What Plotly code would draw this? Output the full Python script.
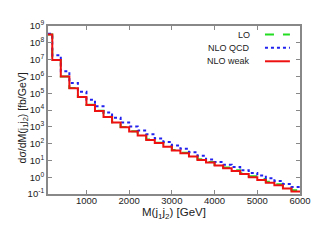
import plotly.graph_objects as go

bin_edges = [100] + list(range(200, 6001, 200))

nlo_weak = [3.1e8, 9.5e6, 1.0e6, 2.0e5, 5.9e4, 2.0e4, 8.7e3, 3.8e3, 1.8e3, 955,
            525, 302, 166, 107, 66, 39, 27, 17, 10.7, 7.4,
            4.9, 3.4, 2.3, 1.55, 1.0, 0.69, 0.47, 0.33, 0.21, 0.14]
nlo_qcd = [3.5e8, 1.8e7, 2.0e6, 4.1e5, 1.23e5, 4.1e4, 1.7e4, 7.1e3, 3.5e3, 1.8e3,
           1.05e3, 600, 363, 200, 126, 76, 49, 31, 18.6, 11.2,
           7.9, 5.5, 4.0, 2.6, 1.8, 1.26, 0.87, 0.60, 0.40, 0.26]
lo = [3.1e8, 9.6e6, 1.0e6, 2.05e5, 6.0e4, 2.05e4, 8.9e3, 3.9e3, 1.85e3, 985,
      545, 315, 175, 113, 70, 42, 29, 18.3, 11.6, 8.1,
      5.4, 3.75, 2.55, 1.73, 1.12, 0.78, 0.54, 0.38, 0.245, 0.165]

series_names = ["LO", "NLO QCD", "NLO weak"]
series_colors = ["#22dd22", "#2222ee", "#ee1111"]
series_dash = ["dash", "dot", "solid"]

y_tick_vals = [10.0 ** k for k in range(-1, 10)]
y_tick_text = ["10<sup>%d</sup>" % k for k in range(-1, 10)]
x_tick_vals = [1000, 2000, 3000, 4000, 5000, 6000]

FONT = "Liberation Sans, Arial"
fig = go.Figure()
for name, vals, col, dash in zip(series_names, [lo, nlo_qcd, nlo_weak], series_colors, series_dash):
    fig.add_trace(go.Scatter(
        x=bin_edges, y=vals + [vals[-1]], mode="lines", line_shape="hv",
        line=dict(color=col, width=2, dash=dash), name=name, showlegend=False))

# manual legend (text on left, sample on right)
leg_y = [0.949, 0.870, 0.790]
for name, col, dash, yy in zip(series_names, series_colors, series_dash, leg_y):
    fig.add_annotation(x=0.808, y=yy, xref="paper", yref="paper", text=name,
                       showarrow=False, xanchor="right", yanchor="middle",
                       font=dict(size=9, color="#222222"))
    fig.add_shape(type="line", xref="paper", yref="paper", x0=0.861, x1=0.960,
                  y0=yy, y1=yy, line=dict(color=col, width=2, dash=dash))

# y-axis title as annotation (close to tick labels, as in the reference)
fig.add_annotation(x=-0.099, y=0.45, xref="paper", yref="paper",
                   text="dσ/dM(j<sub>1</sub>j<sub>2</sub>) [fb/GeV]", textangle=-90,
                   showarrow=False, xanchor="center", yanchor="middle",
                   font=dict(size=10.5, color="#222222", family=FONT))

axis_common = dict(showline=True, mirror="ticks", linecolor="#888888", linewidth=2,
                   ticks="inside", ticklen=4, tickcolor="#888888", showgrid=False,
                   zeroline=False, automargin=False,
                   tickfont=dict(size=9.5, color="#222222", family=FONT))
fig.update_xaxes(range=[100, 6000], tickvals=x_tick_vals, ticklabelstandoff=-3,
                 title=dict(text="M(j<sub>1</sub>j<sub>2</sub>) [GeV]", standoff=2,
                            font=dict(size=11.5, color="#222222", family=FONT)),
                 **axis_common)
fig.update_yaxes(type="log", range=[-1, 9], tickvals=y_tick_vals, ticktext=y_tick_text,
                 **axis_common)

fig.update_layout(width=319, height=247, margin=dict(l=48, r=19, t=26, b=53),
                  paper_bgcolor="white", plot_bgcolor="white",
                  font=dict(family=FONT))
fig.write_html("out.html", config={"displayModeBar": False},
               post_script="document.body.style.margin='0';")
